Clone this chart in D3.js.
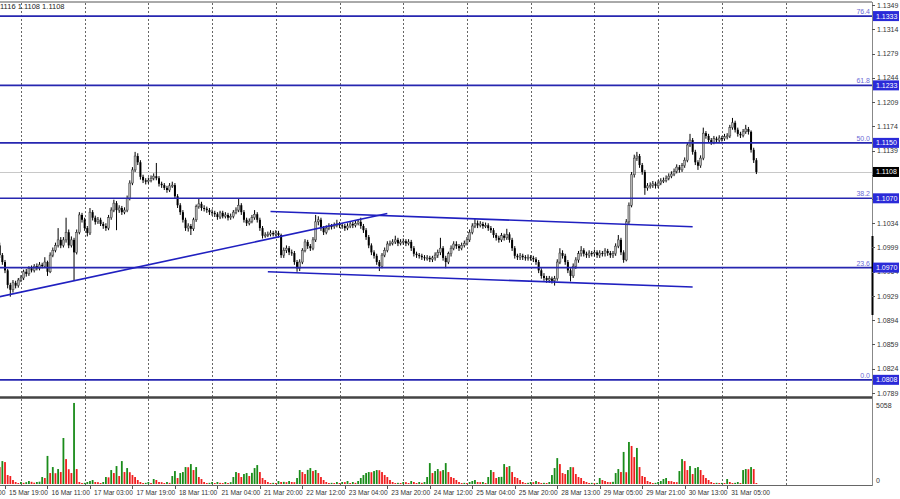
<!DOCTYPE html>
<html><head><meta charset="utf-8">
<script src="https://cdn.jsdelivr.net/npm/d3@7"></script>
<style>body{margin:0;background:#fff}svg{display:block}text{font-family:"Liberation Sans",Arial,sans-serif}</style>
</head><body><svg id="c" width="900" height="499"></svg>
<script>
// Hourly candles, prices in pips (price * 10000); open of each bar = previous close
const openFirst = 11002;
const closes = [
10988,10978,10966,10945,10938,10948,10944,10952,10955,10964,
10961,10969,10966,10972,10969,10974,10972,10978,10964,10988,
10995,11002,11010,11002,11010,11021,11002,11010,10992,11021,
11046,11039,11027,11020,11050,11042,11036,11039,11033,11030,
11027,11042,11053,11063,11053,11056,11050,11053,11070,11092,
11111,11131,11122,11101,11096,11094,11096,11099,11102,11099,
11091,11089,11085,11082,11088,11089,11073,11060,11050,11039,
11027,11030,11026,11039,11058,11062,11056,11055,11053,11050,
11049,11047,11043,11049,11044,11046,11042,11044,11050,11053,
11060,11050,11039,11034,11037,11042,11047,11039,11027,11016,
11017,11018,11020,11018,11020,11017,10988,10995,10998,10992,
10991,10978,10969,10978,10995,11007,11001,10998,11010,11036,
11039,11027,11021,11027,11030,11029,11031,11033,11031,11030,
11027,11030,11033,11031,11034,11036,11030,11024,11014,11002,
10992,10987,10978,10972,10988,10995,11004,11005,11007,11010,
11005,11007,11008,11005,11007,10998,10990,10988,10987,10985,
10984,10984,10982,10984,10988,10992,10998,10984,10978,10990,
10998,11004,11001,10998,11002,11005,11010,11021,11030,11034,
11031,11033,11030,11031,11027,11024,11017,11013,11010,11016,
11013,11018,11010,10998,10987,10985,10987,10985,10984,10985,
10984,10982,10978,10966,10958,10955,10952,10954,10951,10954,
10978,10991,10987,10978,10966,10958,10972,10981,10990,10995,
10990,10988,10991,10990,10992,10988,10991,10990,10994,10991,
10988,10990,11001,11010,10992,10981,11036,11060,11104,11128,
11131,11118,11108,11085,11088,11089,11091,11088,11092,11095,
11096,11099,11102,11105,11109,11115,11111,11117,11125,11147,
11154,11137,11122,11117,11128,11164,11160,11154,11151,11156,
11154,11157,11156,11159,11160,11172,11179,11169,11163,11161,
11166,11170,11166,11140,11125,11108];
const highs = [
11006,10991,10981,10968,10948,10952,10951,10955,10959,10967,
10968,10972,10973,10975,10976,10978,10977,10985,10980,10992,
10999,11006,11027,11014,11014,11042,11025,11015,11013,11025,
11050,11049,11042,11030,11056,11053,11045,11043,11042,11036,
11034,11046,11057,11068,11066,11060,11059,11057,11074,11096,
11115,11137,11135,11125,11104,11099,11100,11103,11106,11121,
11102,11094,11092,11088,11092,11094,11092,11076,11063,11053,
11042,11034,11033,11042,11061,11070,11065,11060,11058,11056,
11054,11052,11050,11052,11052,11050,11049,11048,11053,11057,
11070,11063,11053,11042,11041,11046,11053,11050,11042,11030,
11021,11022,11024,11023,11024,11023,11019,10999,11002,11001,
10996,10994,10981,10982,10998,11011,11010,11004,11014,11046,
11044,11042,11030,11031,11034,11033,11035,11039,11036,11034,
11033,11034,11037,11036,11038,11040,11042,11033,11027,11017,
11005,10995,10990,10981,10991,10999,11008,11009,11011,11016,
11013,11011,11012,11011,11011,11010,11001,10993,10991,10990,
10988,10988,10987,10987,10992,10996,11013,11001,10987,10993,
11002,11008,11008,11004,11006,11009,11014,11025,11034,11040,
11038,11037,11036,11035,11034,11030,11027,11020,11016,11020,
11019,11026,11021,11013,11001,10990,10991,10990,10988,10989,
10988,10987,10985,10981,10969,10962,10958,10958,10957,10958,
10982,10998,10995,10990,10981,10969,10976,10985,10994,11001,
10998,10993,10995,10994,10996,10995,10995,10994,10998,10997,
10994,10994,11005,11017,11013,10995,11040,11064,11108,11133,
11137,11134,11121,11111,11092,11093,11095,11094,11096,11099,
11100,11103,11106,11109,11113,11119,11118,11121,11129,11151,
11163,11157,11140,11125,11132,11172,11167,11163,11157,11160,
11159,11161,11160,11163,11164,11176,11186,11182,11172,11166,
11170,11176,11173,11168,11143,11128];
const lows = [
10984,10974,10962,10940,10928,10934,10940,10941,10949,10952,
10957,10958,10963,10963,10966,10966,10969,10970,10958,10962,
10985,10992,10999,10998,10999,11006,10998,10999,10952,10989,
11018,11035,11023,11015,11017,11038,11032,11033,11030,11026,
11023,11024,11039,11050,11024,11049,11046,11047,11050,11067,
11089,11108,11118,11097,11092,11090,11091,11093,11096,11096,
11087,11085,11082,11078,11079,11085,11069,11056,11046,11035,
11023,11022,11017,11023,11036,11055,11052,11051,11049,11046,
11045,11043,11039,11040,11041,11041,11038,11039,11041,11047,
11050,11046,11035,11030,11031,11034,11039,11035,11023,11012,
11013,11014,11015,11015,11015,11013,10984,10984,10991,10988,
10987,10974,10964,10965,10975,10992,10997,10994,10995,11007,
11031,11023,11017,11018,11024,11025,11026,11028,11027,11026,
11023,11024,11027,11027,11028,11031,11026,11020,11010,10998,
10988,10983,10974,10965,10969,10985,10992,11001,11002,11004,
11001,11002,11003,11001,11002,10994,10986,10984,10983,10981,
10980,10980,10978,10978,10980,10984,10988,10980,10969,10975,
10986,10995,10997,10994,10995,10999,11002,11007,11018,11027,
11027,11028,11026,11027,11023,11020,11013,11009,11006,11007,
11009,11010,11006,10994,10983,10981,10981,10981,10980,10980,
10980,10978,10974,10962,10954,10951,10948,10948,10947,10944,
10951,10975,10983,10974,10962,10950,10955,10968,10977,10986,
10986,10984,10984,10986,10986,10984,10984,10986,10986,10987,
10984,10984,10987,10998,10988,10977,10979,11033,11057,11100,
11124,11114,11104,11075,11081,11084,11085,11084,11085,11089,
11092,11093,11096,11099,11102,11106,11107,11108,11114,11122,
11144,11133,11118,11111,11114,11125,11156,11150,11147,11148,
11150,11151,11152,11153,11155,11157,11169,11165,11159,11157,
11158,11163,11162,11136,11121,11105];
const volumes = [
1020,1380,1320,540,480,240,120,60,120,70,
110,180,130,80,120,140,420,360,1690,660,
1020,650,900,720,2770,1500,890,660,4880,900,
120,60,70,120,180,240,120,110,60,120,
420,400,840,660,1080,480,1380,720,960,710,
540,420,240,120,60,70,120,60,300,240,
120,110,60,120,70,480,780,360,660,720,
1020,1010,1200,840,1020,420,300,120,60,70,
120,60,120,70,60,120,60,110,420,720,
660,420,600,660,480,670,960,1140,720,360,
240,120,60,70,60,180,120,130,110,180,
120,110,360,840,720,600,850,960,780,840,
660,420,240,120,60,70,60,120,60,120,
110,180,60,120,70,180,360,540,660,720,
710,780,840,830,720,540,420,240,120,60,
70,60,120,110,60,180,120,60,120,70,
120,420,1260,660,780,900,770,840,1260,720,
420,360,240,120,60,70,60,120,180,240,
120,110,120,60,420,840,720,360,420,430,
1200,1020,1080,720,420,360,240,120,60,70,
120,110,180,120,60,70,60,120,540,960,
1560,1200,660,600,840,1020,1010,600,420,360,
180,120,60,70,60,65,360,240,180,120,
110,130,660,900,720,1930,710,2530,2290,1620,
2170,1020,480,420,180,120,60,70,120,180,
300,360,180,170,120,110,780,1500,1380,840,
1080,600,960,1020,840,540,360,240,120,60,
70,60,65,60,300,120,60,70,120,60,
840,900,890,1020,900,60];
const timeLabels = ["15 Mar 03:00","15 Mar 19:00","16 Mar 11:00","17 Mar 03:00","17 Mar 19:00","18 Mar 11:00",
"21 Mar 04:00","21 Mar 20:00","22 Mar 12:00","23 Mar 04:00","23 Mar 20:00","24 Mar 12:00","25 Mar 04:00",
"25 Mar 20:00","28 Mar 13:00","29 Mar 05:00","29 Mar 21:00","30 Mar 13:00","31 Mar 05:00"];
const priceTicks = [1.1349,1.1314,1.1279,1.1244,1.1209,1.1174,1.1139,1.1104,1.1069,1.1034,1.0999,1.0964,1.0929,1.0894,1.0859,1.0824,1.0789];
const fibLevels = [1.0808,1.0970,1.1070,1.1150,1.1233,1.1333];
const fibNames = ["0.0","23.6","38.2","50.0","61.8","76.4"];
const lastPrice = 1.1108;
const volumeMax = 5058;
const headerText = "1116 1.1108 1.1108";
const trendLines = [
  [{bar:0, price:1.0928},{bar:146, price:1.1048}],
  [{bar:102, price:1.1051},{bar:261, price:1.1029}],
  [{bar:101, price:1.0964},{bar:261, price:1.0942}]
];

const svg = d3.select("#c");
const W = 872;
const n = closes.length;
const x = d3.scaleLinear().domain([0, n-1]).range([-0.3, -0.3 + (n-1)*2.655]);
const y = d3.scaleLinear().domain([1.0789, 1.1349]).range([393, 5]);
const yv = d3.scaleLinear().domain([0, volumeMax]).range([484, 400]);
const P = v => v/10000;

svg.append("defs").append("clipPath").attr("id","pc").append("rect").attr("x",0).attr("y",3).attr("width",W).attr("height",393);
svg.select("defs").append("clipPath").attr("id","vc").append("rect").attr("x",0).attr("y",399).attr("width",W).attr("height",86);

// vertical grid
const gridBars = d3.range(8, 300, 24);
svg.append("g").selectAll("line").data(gridBars).join("line")
  .attr("x1", d => Math.round(x(d))+0.5).attr("x2", d => Math.round(x(d))+0.5)
  .attr("y1", 3).attr("y2", 485)
  .attr("stroke", "#666").attr("stroke-dasharray", "2,2").attr("stroke-width", 1);

const pg = svg.append("g").attr("clip-path","url(#pc)");
// bid line
pg.append("line").attr("x1",0).attr("x2",W).attr("y1",Math.round(y(lastPrice))+0.5).attr("y2",Math.round(y(lastPrice))+0.5)
  .attr("stroke","#c8c8c8").attr("stroke-width",1);

// candles
const bars = closes.map((c,i)=>({i, o: P(i===0?openFirst:closes[i-1]), c: P(c), h: P(highs[i]), l: P(lows[i])}));
const cg = pg.append("g");
cg.selectAll("line").data(bars).join("line")
  .attr("x1", d => x(d.i)).attr("x2", d => x(d.i))
  .attr("y1", d => y(d.h)).attr("y2", d => y(d.l))
  .attr("stroke","#000").attr("stroke-width",1);
cg.selectAll("rect").data(bars).join("rect")
  .attr("x", d => x(d.i)-1).attr("width", 2)
  .attr("y", d => y(Math.max(d.o,d.c)))
  .attr("height", d => Math.max(1, Math.abs(y(d.o)-y(d.c))))
  .attr("fill", d => d.c >= d.o ? "#b4b4b4" : "#000")
  .attr("stroke", d => d.c >= d.o ? "#333" : "none").attr("stroke-width", 0.5);

// fib levels
pg.selectAll("line.fib").data(fibLevels).join("line").attr("class","fib")
  .attr("x1",0).attr("x2",W).attr("y1",d=>y(d)).attr("y2",d=>y(d))
  .attr("stroke","#2626b0").attr("stroke-width",1.6);
pg.selectAll("text.fibn").data(fibLevels).join("text").attr("class","fibn")
  .attr("x",870).attr("y",d=>y(d)-2).attr("text-anchor","end")
  .attr("font-size",7).attr("fill","#6a6ad6").text((d,i)=>fibNames[i]);

// trend lines
const line = d3.line().x(d=>x(d.bar)).y(d=>y(d.price));
pg.selectAll("path.tl").data(trendLines).join("path").attr("class","tl")
  .attr("d", line).attr("fill","none").attr("stroke","#2020c0").attr("stroke-width",1.6);

// header text
svg.append("text").attr("x",0).attr("y",9).attr("font-size",7.5).attr("fill","#222").text(headerText);

// volumes
const vg = svg.append("g").attr("clip-path","url(#vc)");
vg.selectAll("rect").data(volumes).join("rect")
  .attr("x", (d,i) => x(i)-0.9).attr("width", 1.8)
  .attr("y", d => yv(d)).attr("height", d => yv(0)-yv(d))
  .attr("fill", (d,i) => i>0 && d > volumes[i-1] ? "#1a8c1a" : "#f01e1e");

// frame
svg.append("line").attr("x1",0).attr("x2",W).attr("y1",2).attr("y2",2).attr("stroke","#555").attr("stroke-width",1);
svg.append("line").attr("x1",0).attr("x2",W).attr("y1",397.5).attr("y2",397.5).attr("stroke","#444").attr("stroke-width",2.5);
svg.append("line").attr("x1",0).attr("x2",W).attr("y1",485.5).attr("y2",485.5).attr("stroke","#666").attr("stroke-width",1);
svg.append("line").attr("x1",W+0.5).attr("x2",W+0.5).attr("y1",2).attr("y2",486).attr("stroke","#888").attr("stroke-width",1);
svg.append("line").attr("x1",W+0.5).attr("x2",W+0.5).attr("y1",236).attr("y2",315).attr("stroke","#000").attr("stroke-width",2);

// price axis
const ax = svg.append("g");
ax.selectAll("line").data(priceTicks).join("line")
  .attr("x1",W).attr("x2",W+3).attr("y1",d=>Math.round(y(d))+0.5).attr("y2",d=>Math.round(y(d))+0.5).attr("stroke","#555");
ax.selectAll("text").data(priceTicks).join("text")
  .attr("x",877).attr("y",d=>y(d)+2.5).attr("font-size",7).attr("fill","#333").text(d=>d.toFixed(4));

// fib price labels
const fl = svg.append("g").selectAll("g").data(fibLevels).join("g");
fl.append("rect").attr("x",873).attr("y",d=>y(d)-5).attr("width",26).attr("height",10).attr("fill","#2a2ad8");
fl.append("text").attr("x",876).attr("y",d=>y(d)+2.5).attr("font-size",7).attr("fill","#fff").text(d=>d.toFixed(4));
// last price label
svg.append("rect").attr("x",873).attr("y",y(lastPrice)-5).attr("width",26).attr("height",10).attr("fill","#000");
svg.append("text").attr("x",876).attr("y",y(lastPrice)+2.5).attr("font-size",7).attr("fill","#fff").text(lastPrice.toFixed(4));

// volume axis
svg.append("text").attr("x",876).attr("y",408).attr("font-size",7).attr("fill","#333").text(volumeMax);
svg.append("text").attr("x",876).attr("y",483).attr("font-size",7).attr("fill","#333").text("0");

// time axis
const labelBars = timeLabels.map((t,k)=>2 + 16*(k-1));
const tg = svg.append("g").selectAll("g").data(timeLabels).join("g");
tg.append("line").attr("x1",(d,k)=>Math.round(x(labelBars[k]))+0.5).attr("x2",(d,k)=>Math.round(x(labelBars[k]))+0.5)
  .attr("y1",486).attr("y2",489).attr("stroke","#555");
tg.append("text").attr("x",(d,k)=>x(labelBars[k])+4).attr("y",495).attr("font-size",6.6).attr("fill","#333").text(d=>d);
</script></body></html>
